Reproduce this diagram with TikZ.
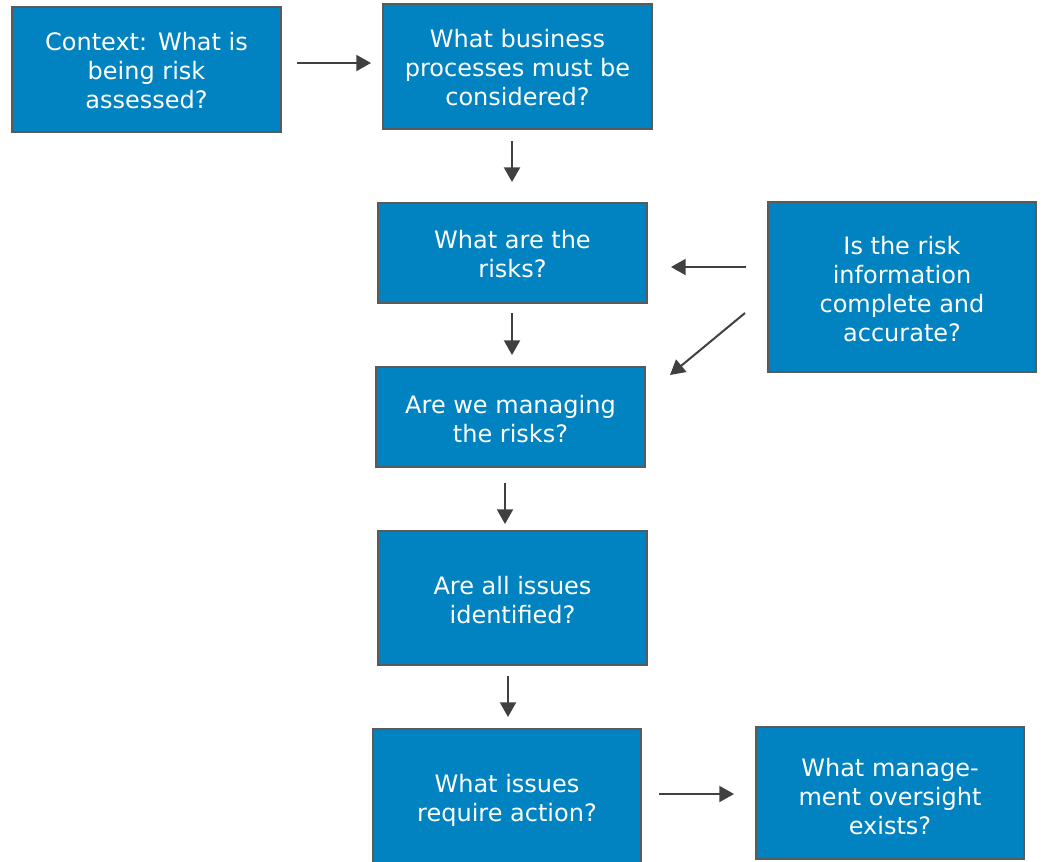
\documentclass[tikz,border=0pt]{standalone}
\usepackage{fontspec}
\setmainfont{DejaVu Sans}
\usetikzlibrary{arrows.meta}
\definecolor{boxblue}{HTML}{0083C0}
\definecolor{boxedge}{HTML}{5A5A5A}
\definecolor{arrowgray}{HTML}{404040}
\begin{document}
\begin{tikzpicture}[x=0.75pt,y=-0.75pt,
  qbox/.style={draw=boxedge,line width=0.8pt,fill=boxblue,text=white,
    align=center,inner sep=0pt,
    font=\fontsize{18pt}{21.75pt}\selectfont},
  qtext/.style={text=white,align=center,inner sep=0pt,
    font=\fontsize{18pt}{21.75pt}\selectfont},
  flow/.style={draw=arrowgray,line width=1.5pt,
    -{Triangle[length=11pt,width=12pt]}}]
\useasboundingbox (0,0) rectangle (1042,861);
% boxes
\node[qbox,minimum width=269*0.75pt,minimum height=125*0.75pt] (ctx) at (146.5,69.5) {};
\node[qtext] (ctxtext) at (146.5,71) {Context:\hspace{0.45em}What is\\being risk\\assessed?};
\node[qbox,minimum width=269*0.75pt,minimum height=125*0.75pt] (bp) at (517.5,66.5) {};
\node[qtext] (bptext) at (517.5,68) {What business\\processes must be\\considered?};
\node[qbox,minimum width=269*0.75pt,minimum height=100*0.75pt] (risks) at (512.5,253) {};
\node[qtext] (riskstext) at (512.5,254.5) {What are the\\risks?};
\node[qbox,minimum width=268*0.75pt,minimum height=170*0.75pt] (info) at (902,287) {};
\node[qtext] (infotext) at (902,289) {Is the risk\\information\\complete and\\accurate?};
\node[qbox,minimum width=269*0.75pt,minimum height=100*0.75pt] (manage) at (510.5,417) {};
\node[qtext] (managetext) at (510.5,419) {Are we managing\\the risks?};
\node[qbox,minimum width=269*0.75pt,minimum height=134*0.75pt] (issues) at (512.5,598) {};
\node[qtext] (issuestext) at (512.5,600) {Are all issues\\identified?};
\node[qbox,minimum width=268*0.75pt,minimum height=142*0.75pt] (action) at (507,800) {};
\node[qtext] (actiontext) at (507,800) {What issues\\require action?};
\node[qbox,minimum width=268*0.75pt,minimum height=132*0.75pt] (oversight) at (890,793) {};
\node[qtext] (oversighttext) at (890,797) {What manage-\\ment oversight\\exists?};
% arrow end points
\coordinate (a1s) at (297,63);  \coordinate (a1e) at (371,63);
\coordinate (a2s) at (512,141); \coordinate (a2e) at (512,182);
\coordinate (a3s) at (746,267); \coordinate (a3e) at (671,267);
\coordinate (a4s) at (745,313); \coordinate (a4e) at (670,375);
\coordinate (a5s) at (512,313); \coordinate (a5e) at (512,355);
\coordinate (a6s) at (505,483); \coordinate (a6e) at (505,524);
\coordinate (a7s) at (508,676); \coordinate (a7e) at (508,717);
\coordinate (a8s) at (659,794); \coordinate (a8e) at (734,794);
% connectors
\draw[flow] (a1s) -- (a1e);
\draw[flow] (a2s) -- (a2e);
\draw[flow] (a3s) -- (a3e);
\draw[flow] (a4s) -- (a4e);
\draw[flow] (a5s) -- (a5e);
\draw[flow] (a6s) -- (a6e);
\draw[flow] (a7s) -- (a7e);
\draw[flow] (a8s) -- (a8e);
\end{tikzpicture}
\end{document}
